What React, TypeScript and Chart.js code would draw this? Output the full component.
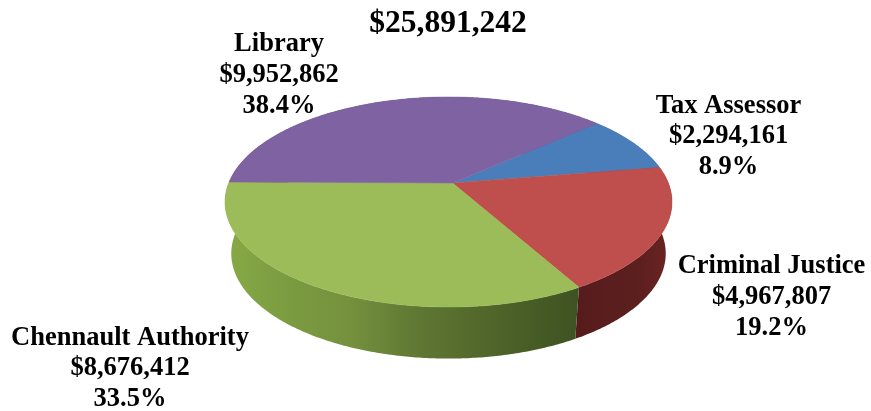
import React, { useEffect, useRef } from "react";
import { Chart, registerables } from "chart.js";

Chart.register(...registerables);

const categories = ["Tax Assessor", "Criminal Justice", "Chennault Authority", "Library"];
const amounts = [2294161, 4967807, 8676412, 9952862];
const amountLabels = ["$2,294,161", "$4,967,807", "$8,676,412", "$9,952,862"];
const percentLabels = ["8.9%", "19.2%", "33.5%", "38.4%"];
const totalLabel = "$25,891,242";

const faceColors = ["#4a7ebb", "#be4f4c", "#9bbc58", "#7f62a1"];
const sideStops: Array<Array<[number, string]>> = [
  [[0, "#2c4c70"], [1, "#2c4c70"]],
  [[0, "#561c1b"], [0.6, "#5b1f1e"], [1, "#6a2422"]],
  [[0, "#87a945"], [0.2, "#7a9a40"], [0.35, "#75913e"], [0.55, "#5f7733"], [0.8, "#4c6128"], [1, "#3f5222"]],
  [[0, "#4c3a60"], [1, "#4c3a60"]],
];

// Label anchors: centre x and the baseline of the first line.
const labelAnchors = [
  { x: 728.5, y: 112.5 },
  { x: 771.5, y: 273 },
  { x: 130, y: 344.5 },
  { x: 279, y: 51 },
];
const lineStep = 30.8;

// Perspective view of the disc: rim centre, visual apex, scale and foreshortening.
const view = {
  cx: 448.5,
  apexX: 452.5,
  ay: 183,
  r: 219.8,
  p: 101.6,
  k: -0.181,
  depth: 51.5,
  bottomScale: 0.972,
};

const project = (angle: number, lower: boolean) => {
  const u = Math.cos(angle);
  const v = Math.sin(angle);
  const w = 1 + view.k * v;
  const dx = (view.r * u) / w;
  const dy = (view.p * v) / w;
  return lower
    ? { x: view.cx + dx * view.bottomScale, y: view.ay + dy + view.depth }
    : { x: view.cx + dx, y: view.ay + dy };
};

const arcSteps = (a: number, b: number) => Math.max(2, Math.ceil((b - a) / 0.01));

const disc3d = {
  id: "disc3d",
  beforeDatasetsDraw(chart: any) {
    const { ctx } = chart;
    const arcs = chart.getDatasetMeta(0).data;

    // Rim first; the faces cover whatever part of it lies behind the disc.
    arcs.forEach((arc: any, i: number) => {
      const a = arc.startAngle;
      const b = arc.endAngle;
      const n = arcSteps(a, b);
      const top = [];
      for (let s = 0; s <= n; s++) top.push(project(a + ((b - a) * s) / n, false));
      const bottom = [];
      for (let s = n; s >= 0; s--) bottom.push(project(a + ((b - a) * s) / n, true));
      const xs = top
        .filter((_, s) => Math.sin(a + ((b - a) * s) / n) > -0.05)
        .map((q) => q.x);
      const x0 = xs.length ? Math.min(...xs) : 0;
      const x1 = xs.length ? Math.max(...xs) : 1;
      const grad = ctx.createLinearGradient(x0, 0, x1, 0);
      sideStops[i].forEach(([o, c]) => grad.addColorStop(o, c));
      ctx.beginPath();
      [...top, ...bottom].forEach((q, s) => (s ? ctx.lineTo(q.x, q.y) : ctx.moveTo(q.x, q.y)));
      ctx.closePath();
      ctx.fillStyle = grad;
      ctx.fill();
    });

    // Top face of each slice.
    arcs.forEach((arc: any) => {
      const a = arc.startAngle;
      const b = arc.endAngle;
      const n = arcSteps(a, b);
      ctx.beginPath();
      ctx.moveTo(view.apexX, view.ay);
      for (let s = 0; s <= n; s++) {
        const q = project(a + ((b - a) * s) / n, false);
        ctx.lineTo(q.x, q.y);
      }
      ctx.closePath();
      ctx.fillStyle = arc.options.backgroundColor;
      ctx.strokeStyle = arc.options.backgroundColor;
      ctx.lineWidth = 0.5;
      ctx.fill();
      ctx.stroke();
    });
    return false;
  },
  afterDraw(chart: any) {
    const { ctx } = chart;
    ctx.save();
    ctx.fillStyle = "#000";
    ctx.textAlign = "center";
    ctx.textBaseline = "alphabetic";
    ctx.font = 'bold 31.5px "Liberation Serif"';
    ctx.fillText(totalLabel, 448, 32);
    ctx.font = 'bold 26.5px "Liberation Serif"';
    categories.forEach((name, i) => {
      const { x, y } = labelAnchors[i];
      [name, amountLabels[i], percentLabels[i]].forEach((line, j) => {
        ctx.fillText(line, x, y + j * lineStep);
      });
    });
    ctx.restore();
  },
};

export default function App() {
  const ref = useRef<HTMLCanvasElement>(null);
  useEffect(() => {
    document.body.style.margin = "0";
    const chart = new Chart(ref.current!, {
      type: "pie",
      data: {
        labels: categories,
        datasets: [{ data: amounts, backgroundColor: faceColors, borderWidth: 0 }],
      },
      options: {
        responsive: false,
        animation: false,
        rotation: 49,
        plugins: { legend: { display: false }, tooltip: { enabled: false } },
      },
      plugins: [disc3d],
    });
    return () => chart.destroy();
  }, []);
  return <canvas ref={ref} width={871} height={411} style={{ display: "block" }} />;
}
